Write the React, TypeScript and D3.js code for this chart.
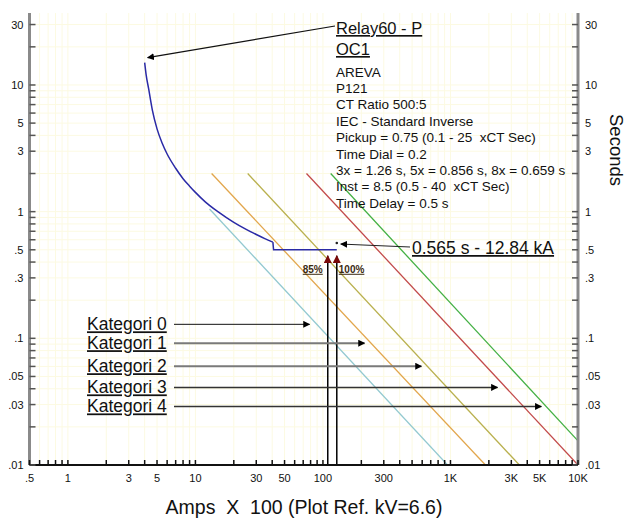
import React from 'react';
import * as d3 from 'd3';

// relay curve (amps x100, seconds)
const relayCurve: [number, number][] = [
  [4.0, 15], [4.1, 12.2], [4.3, 9.3], [4.6, 6.3], [5.0, 4.5], [5.5, 3.45],
  [6.0, 2.85], [7.0, 2.2], [8.0, 1.82], [9.0, 1.59], [10, 1.42], [12, 1.19],
  [15, 1.0], [20, 0.823], [25, 0.724], [30, 0.66], [35, 0.613], [40.5, 0.575],
];
const relayInst: [number, number][] = [[40.5, 0.575], [41, 0.5], [128.4, 0.5]];
const faultPoint: [number, number] = [128.4, 0.565];
const pctLabels = ['85%', '100%'];
const pctAmps = [109.1, 128.4];

// diagonal lines (start / end points)
const lineStarts: [number, number][] = [[12.9, 1.05], [13.4, 2], [25.7, 2], [74.3, 2], [115, 2]];
const lineEnds: [number, number][] = [[948, 0.01], [1880, 0.01], [3470, 0.01], [10000, 0.01], [10000, 0.0155]];
const lineColors = ['#93c9d0', '#e2a64c', '#b9b04e', '#c24a4a', '#44b044'];

const categoryNames = ['Kategori 0', 'Kategori 1', 'Kategori 2', 'Kategori 3', 'Kategori 4'];
const categoryTargets: [number, number][] = [[78.5, 0.129], [212, 0.0915], [593, 0.0602], [2335, 0.041], [5160, 0.029]];
const categoryStroke = ['#111', '#7a7a7a', '#7a7a7a', '#333', '#333'];
const categoryWidth = [1, 2, 2, 1.5, 1.5];

const infoLines = [
  'AREVA',
  'P121',
  'CT Ratio 500:5',
  'IEC - Standard Inverse',
  'Pickup = 0.75 (0.1 - 25  xCT Sec)',
  'Time Dial = 0.2',
  '3x = 1.26 s, 5x = 0.856 s, 8x = 0.659 s',
  'Inst = 8.5 (0.5 - 40  xCT Sec)',
  'Time Delay = 0.5 s',
];

const xTickLabels = [0.5, 1, 3, 5, 10, 30, 50, 100, 300, 1000, 3000, 5000, 10000];
const yTickLabels = [30, 10, 5, 3, 1, 0.5, 0.3, 0.1, 0.05, 0.03, 0.01];

const W = 629;
const H = 520;
const left = 29.5;
const right = 578;
const top = 13;
const bottom = 465;

const fmt = (v: number) => {
  if (v >= 1000) return `${v / 1000}K`;
  if (v < 1) return String(v).replace(/^0/, '');
  return String(v);
};

// all 1..9 x decade values inside a domain
const minorValues = (lo: number, hi: number) => {
  const out: number[] = [];
  for (let e = -3; e <= 5; e++) {
    for (let k = 1; k <= 9; k++) {
      const v = +(k * Math.pow(10, e)).toPrecision(3);
      if (v >= lo - 1e-9 && v <= hi + 1e-9) out.push(v);
    }
  }
  return out;
};

export default function App() {
  const x = d3.scaleLog().domain([0.5, 10000]).range([left, right]);
  const y = d3.scaleLog().domain([0.01, 37]).range([bottom, top]);

  const xMinor = minorValues(0.5, 10000);
  const yMinor = minorValues(0.01, 37);

  const curveLine = d3.line<[number, number]>()
    .x(d => x(d[0]))
    .y(d => y(d[1]))
    .curve(d3.curveMonotoneX);
  const straight = d3.line<[number, number]>()
    .x(d => x(d[0]))
    .y(d => y(d[1]));

  const font = '"Liberation Sans", Arial, sans-serif';
  const arrowStartX = 174;
  const catTextX = 87;

  return (
    <svg width={W} height={H} style={{ position: 'absolute', left: 0, top: 0, background: '#fff' }}
      fontFamily={font}>
      <defs>
        <clipPath id="plot">
          <rect x={left} y={top} width={right - left} height={bottom - top} />
        </clipPath>
        <marker id="ah" viewBox="0 0 10 10" refX="9" refY="5" markerWidth="7" markerHeight="7"
          markerUnits="userSpaceOnUse" orient="auto">
          <path d="M0,0 L10,5 L0,10 z" fill="#000" />
        </marker>
        <marker id="ahRed" viewBox="0 0 10 10" refX="9" refY="5" markerWidth="8" markerHeight="8"
          markerUnits="userSpaceOnUse" orient="auto">
          <path d="M0,0 L10,5 L0,10 z" fill="#7a0a0a" />
        </marker>
      </defs>

      {/* grid */}
      <g stroke="#fcfae2" strokeWidth={1}>
        {xMinor.map((v, i) => (
          <line key={'gx' + i} x1={x(v)} x2={x(v)} y1={top} y2={bottom} />
        ))}
        {yMinor.map((v, i) => (
          <line key={'gy' + i} x1={left} x2={right} y1={y(v)} y2={y(v)} />
        ))}
      </g>

      {/* diagonal lines */}
      <g clipPath="url(#plot)" fill="none" strokeWidth={1.3}>
        {lineStarts.map((s, i) => (
          <path key={'dl' + i} d={straight([s, lineEnds[i]]) || ''} stroke={lineColors[i]} />
        ))}
      </g>

      {/* relay curve */}
      <path d={curveLine(relayCurve) || ''} fill="none" stroke="#2a2aa6" strokeWidth={1.5} />
      <path d={straight(relayInst) || ''} fill="none" stroke="#2a2aa6" strokeWidth={1.5} />

      {/* 85% / 100% arrows */}
      {pctAmps.map((a, i) => (
        <line key={'pa' + i} x1={x(a)} x2={x(a)} y1={bottom} y2={y(0.5) + 6}
          stroke="#000" strokeWidth={1.5} markerEnd="url(#ahRed)" />
      ))}
      <text x={x(pctAmps[0]) - 5} y={y(0.5) + 23} textAnchor="end" fontSize={10} fontWeight="bold"
        fill="#3a2a10" textDecoration="underline">{pctLabels[0]}</text>
      <text x={x(pctAmps[1]) + 2} y={y(0.5) + 23} textAnchor="start" fontSize={10} fontWeight="bold"
        fill="#3a2a10" textDecoration="underline">{pctLabels[1]}</text>

      {/* fault point */}
      <circle cx={x(faultPoint[0])} cy={y(faultPoint[1])} r={1.3} fill="#222" />
      <line x1={410} y1={247} x2={x(faultPoint[0]) + 4} y2={y(faultPoint[1]) + 1}
        stroke="#222" strokeWidth={1} markerEnd="url(#ah)" />
      <text x={412} y={254} fontSize={17.5} fill="#111" textDecoration="underline">0.565 s - 12.84 kA</text>

      {/* category arrows */}
      {categoryNames.map((c, i) => {
        const ty = y(categoryTargets[i][1]);
        return (
          <g key={'cat' + i}>
            <line x1={arrowStartX} x2={x(categoryTargets[i][0])} y1={ty} y2={ty}
              stroke={categoryStroke[i]} strokeWidth={categoryWidth[i]} markerEnd="url(#ah)" />
            <text x={catTextX} y={ty + 6} fontSize={17.5} fill="#111" textDecoration="underline">{c}</text>
          </g>
        );
      })}

      {/* axes */}
      <line x1={left} x2={left} y1={top} y2={bottom} stroke="#8a8a8a" strokeWidth={3} />
      <line x1={right} x2={right} y1={top} y2={bottom} stroke="#8a8a8a" strokeWidth={3} />
      <line x1={left} x2={right} y1={bottom} y2={bottom} stroke="#111" strokeWidth={2} />
      <g stroke="#555" strokeWidth={1.5}>
        {yMinor.map((v, i) => (
          <g key={'yt' + i}>
            <line x1={left} x2={left + 6} y1={y(v)} y2={y(v)} />
            <line x1={right - 6} x2={right} y1={y(v)} y2={y(v)} />
          </g>
        ))}
      </g>
      <g stroke="#111" strokeWidth={1.5}>
        {xMinor.map((v, i) => (
          <line key={'xt' + i} x1={x(v)} x2={x(v)} y1={bottom} y2={bottom - 5} />
        ))}
      </g>
      <g fontSize={11} fill="#111">
        {yTickLabels.map((v, i) => (
          <g key={'yl' + i}>
            <text x={left - 6} y={y(v) + 4} textAnchor="end">{fmt(v)}</text>
            <text x={right + 7} y={y(v) + 4} textAnchor="start">{fmt(v)}</text>
          </g>
        ))}
        {xTickLabels.map((v, i) => (
          <text key={'xl' + i} x={x(v)} y={482} textAnchor="middle">{fmt(v)}</text>
        ))}
      </g>
      <text x={304} y={514} textAnchor="middle" fontSize={19.5} fill="#111"
        style={{ whiteSpace: 'pre' }}>Amps  X  100 (Plot Ref. kV=6.6)</text>
      <text transform="translate(610,150) rotate(90)" textAnchor="middle" fontSize={18.5} fill="#111">Seconds</text>

      {/* relay annotation */}
      <line x1={335} y1={26} x2={x(relayCurve[0][0]) + 3} y2={y(relayCurve[0][1]) - 5}
        stroke="#111" strokeWidth={1.2} markerEnd="url(#ah)" />
      <text x={336} y={34} fontSize={16.5} fill="#111" textDecoration="underline">Relay60 - P</text>
      <text x={336} y={55} fontSize={16.5} fill="#111" textDecoration="underline">OC1</text>
      <g fontSize={13.5} fill="#111">
        {infoLines.map((t, i) => (
          <text key={'il' + i} x={336} y={76.5 + i * 16.4} style={{ whiteSpace: 'pre' }}>{t}</text>
        ))}
      </g>
    </svg>
  );
}
